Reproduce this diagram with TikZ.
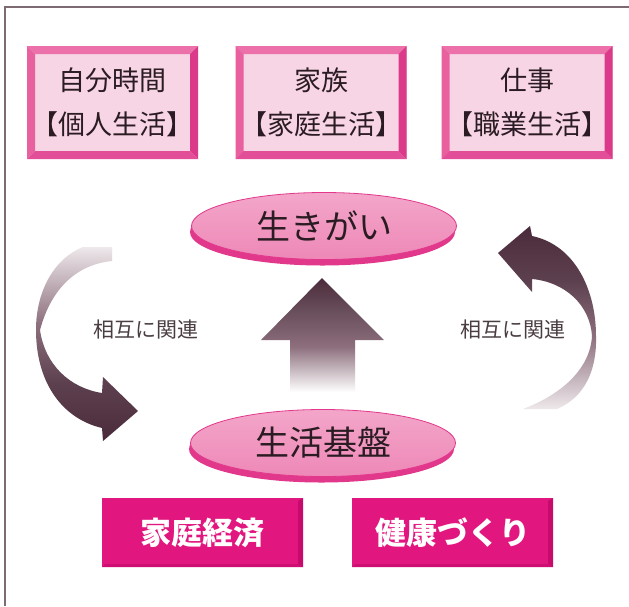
\documentclass[tikz,border=0pt]{standalone}
\usepackage{fontspec}
\newfontfamily\jp{Noto Sans CJK JP}
\usetikzlibrary{shapes.geometric,shadows}
\definecolor{framec}{HTML}{7D6A72}
\definecolor{txt}{HTML}{2A1C22}
\definecolor{boxin}{HTML}{F8D5E4}
\definecolor{bvT}{HTML}{EC70A9}
\definecolor{bvL}{HTML}{E9609F}
\definecolor{bvR}{HTML}{DA3A89}
\definecolor{bvB}{HTML}{E24F98}
\definecolor{ellTop}{HTML}{F3A6C9}
\definecolor{ellBot}{HTML}{EE88B7}
\definecolor{ellRim}{HTML}{E2388C}
\definecolor{magbox}{HTML}{E1167F}
\definecolor{magdark}{HTML}{C60B6C}
\definecolor{arrdark}{HTML}{4B2B3B}
\definecolor{arrmid}{HTML}{8C6E7C}
\definecolor{arrlight}{HTML}{EEE8EB}
\pgfdeclareverticalshading{upshade}{100bp}{color(0bp)=(white); color(25bp)=(white); color(45bp)=(arrmid); color(62bp)=(arrdark!85!white); color(75bp)=(arrdark); color(100bp)=(arrdark)}
\pgfdeclareverticalshading{leftshade}{100bp}{color(0bp)=(arrdark); color(25bp)=(arrdark); color(40bp)=(arrdark!90!white); color(55bp)=(arrmid); color(75bp)=(arrlight); color(100bp)=(arrlight)}
\pgfdeclareverticalshading{rightshade}{100bp}{color(0bp)=(arrlight); color(25bp)=(arrlight); color(45bp)=(arrmid); color(60bp)=(arrdark!90!white); color(75bp)=(arrdark); color(100bp)=(arrdark)}
\tikzset{
  topbox/.style={rectangle, minimum width=171pt, minimum height=113pt, inner sep=0pt,
    fill=boxin, align=center, text=txt, font=\jp\fontsize{27}{44}\selectfont,
    path picture={
      \fill[bvT] (path picture bounding box.north west) -- (path picture bounding box.north east)
        -- ([shift={(-8pt,-8pt)}]path picture bounding box.north east) -- ([shift={(8pt,-8pt)}]path picture bounding box.north west) -- cycle;
      \fill[bvL] (path picture bounding box.north west) -- (path picture bounding box.south west)
        -- ([shift={(8pt,8pt)}]path picture bounding box.south west) -- ([shift={(8pt,-8pt)}]path picture bounding box.north west) -- cycle;
      \fill[bvR] (path picture bounding box.north east) -- (path picture bounding box.south east)
        -- ([shift={(-8pt,8pt)}]path picture bounding box.south east) -- ([shift={(-8pt,-8pt)}]path picture bounding box.north east) -- cycle;
      \fill[bvB] (path picture bounding box.south west) -- (path picture bounding box.south east)
        -- ([shift={(-8pt,8pt)}]path picture bounding box.south east) -- ([shift={(8pt,8pt)}]path picture bounding box.south west) -- cycle;
    }},
  ellnode/.style={ellipse, minimum width=265pt, minimum height=67pt, inner sep=0pt,
    top color=ellTop, bottom color=ellBot, draw=ellRim, line width=0.8pt,
    general shadow={fill=ellRim, shadow yshift=-6pt, shadow xshift=-1.5pt},
    text=txt, font=\jp\fontsize{34}{36}\selectfont},
  basebox/.style={rectangle, minimum width=201pt, minimum height=69pt, inner sep=0pt,
    fill=magbox, text=white, font=\jp\bfseries\fontsize{31}{34}\selectfont,
    path picture={
      \fill[magdark] (path picture bounding box.north east) -- (path picture bounding box.south east)
        -- ([shift={(-5pt,3pt)}]path picture bounding box.south east) -- ([shift={(-5pt,-3pt)}]path picture bounding box.north east) -- cycle;
      \fill[magdark!70!magbox] (path picture bounding box.south west) -- (path picture bounding box.south east)
        -- ([shift={(-5pt,3pt)}]path picture bounding box.south east) -- ([shift={(3pt,3pt)}]path picture bounding box.south west) -- cycle;
    }},
  relabel/.style={text=txt!85!white, font=\jp\fontsize{21}{24}\selectfont},
}
\begin{document}
\begin{tikzpicture}[x=1pt, y=-1pt]
\useasboundingbox[fill=white] (0,0) rectangle (629,606);
% frame
\draw[framec, line width=1.3pt] (5,606) -- (5,7) -- (629,7);
% top boxes
\node[topbox] (jibun) at (112.5,102.5) {自分時間\\【個人生活】};
\node[topbox] (kazoku) at (321,102.5) {家族\\【家庭生活】};
\node[topbox] (shigoto) at (527,102.5) {仕事\\【職業生活】};
% central up arrow
\shade[shading=upshade] (322,278) -- (384,340) -- (355,340) -- (355,392) -- (290,392) -- (290,340) -- (261,340) -- cycle;
% left curved arrow
\shade[shading=leftshade] (83,247) -- (112,247) -- (112,261)
  .. controls (80,264) and (52,285) .. (40,330)
  .. controls (45,365) and (70,388) .. (102,393)
  -- (103,377) -- (138,411) -- (103,441) -- (102,428)
  .. controls (60,418) and (36,380) .. (36,330)
  .. controls (36,290) and (55,258) .. (83,247) -- cycle;
% right curved arrow
\shade[shading=rightshade] (498,253) -- (530,226) -- (532,236)
  .. controls (575,245) and (596,290) .. (596,336)
  .. controls (597,370) and (585,397) .. (557,409)
  -- (523,409)
  .. controls (560,395) and (590,370) .. (592,336)
  .. controls (590,305) and (565,282) .. (532,279)
  -- (532,292) -- cycle;
% ellipses
\node[ellnode] (ikigai) at (324,226) {生きがい};
\node[ellnode] (kiban) at (323,443) {生活基盤};
% labels
\node[relabel] (rel1) at (146,330) {相互に関連};
\node[relabel] (rel2) at (513,330) {相互に関連};
% bottom boxes
\node[basebox] (keizai) at (202.5,532.5) {家庭経済};
\node[basebox] (kenko) at (452.5,532.5) {健康づくり};
\end{tikzpicture}
\end{document}
